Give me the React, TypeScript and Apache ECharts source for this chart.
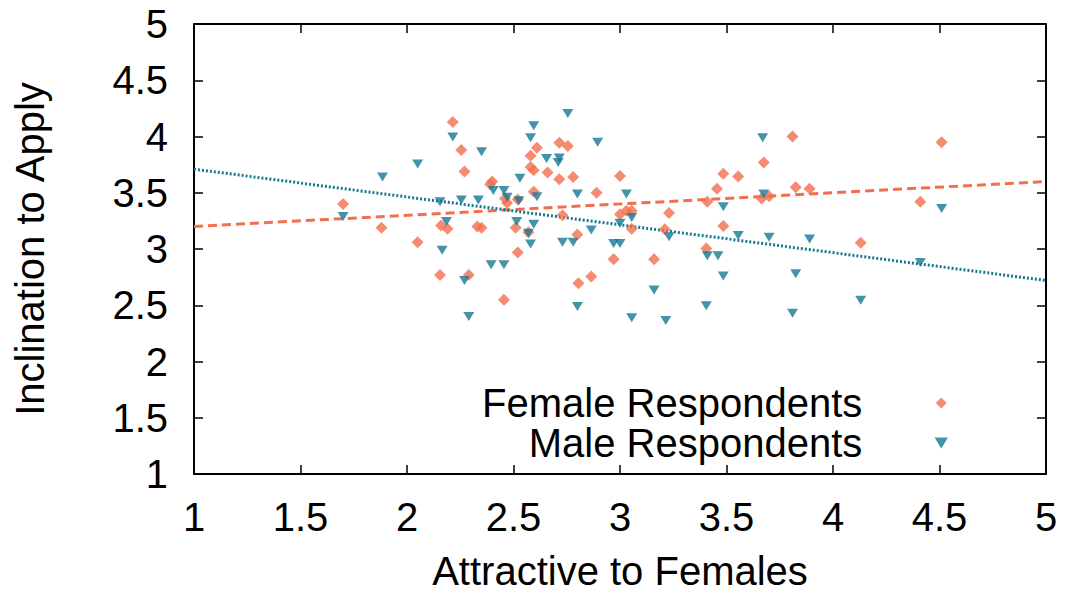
import React, { useEffect, useRef } from "react";
import * as echarts from "echarts";

// Respondent ratings: attractiveness to females (x) vs. inclination to apply (y)
const femaleX = [
  1.7, 1.88, 2.05, 2.155, 2.16, 2.19, 2.215, 2.255, 2.27, 2.29, 2.33, 2.35,
  2.4, 2.39, 2.455, 2.46, 2.47, 2.52, 2.51, 2.52, 2.57, 2.58, 2.58, 2.595,
  2.595, 2.61, 2.66, 2.715, 2.715, 2.73, 2.755, 2.78, 2.8, 2.805, 2.865, 2.89,
  2.97, 3.0, 3.0, 3.03, 3.055, 3.055, 3.16, 3.21, 3.23, 3.405, 3.41, 3.455,
  3.485, 3.485, 3.555, 3.665, 3.675, 3.7, 3.81, 3.825, 3.89, 4.13, 4.41, 4.51,
];
const femaleY = [
  3.4, 3.19, 3.06, 2.77, 3.21, 3.18, 4.13, 3.88, 3.69, 2.77, 3.2, 3.19,
  3.6, 3.575, 2.55, 3.45, 3.41, 3.44, 3.19, 2.97, 3.15, 3.83, 3.73, 3.7,
  3.51, 3.9, 3.68, 3.945, 3.62, 3.3, 3.915, 3.64, 3.13, 2.695, 2.755, 3.5,
  2.91, 3.65, 3.31, 3.34, 3.34, 3.18, 2.91, 3.175, 3.32, 3.005, 3.42, 3.535,
  3.67, 3.205, 3.645, 3.45, 3.77, 3.47, 4.0, 3.55, 3.535, 3.055, 3.42, 3.95,
];
const maleX = [
  1.7, 1.885, 2.05, 2.155, 2.165, 2.185, 2.215, 2.255, 2.27, 2.29, 2.335, 2.35,
  2.395, 2.405, 2.455, 2.455, 2.47, 2.515, 2.525, 2.53, 2.57, 2.58, 2.58, 2.595,
  2.595, 2.61, 2.655, 2.715, 2.71, 2.73, 2.755, 2.78, 2.8, 2.8, 2.865, 2.895,
  2.97, 3.0, 3.0, 3.03, 3.055, 3.055, 3.16, 3.215, 3.23, 3.405, 3.41, 3.46,
  3.485, 3.485, 3.555, 3.67, 3.675, 3.7, 3.81, 3.825, 3.89, 4.13, 4.41, 4.51,
];
const maleY = [
  3.29, 3.64, 3.755, 3.42, 2.99, 3.245, 3.995, 3.435, 2.72, 2.4, 3.435, 3.865,
  2.86, 3.52, 3.52, 2.86, 3.46, 3.245, 3.43, 3.63, 3.14, 3.99, 3.045, 4.095,
  3.22, 3.465, 3.805, 3.81, 3.77, 3.06, 4.205, 3.06, 3.49, 2.49, 3.17, 3.95,
  3.05, 3.05, 3.23, 3.49, 3.28, 2.39, 2.635, 2.365, 3.11, 2.495, 2.94, 2.94,
  3.375, 2.76, 3.12, 3.99, 3.49, 3.105, 2.43, 2.78, 3.09, 2.545, 2.88, 3.36,
];

// Fitted trend lines, evaluated at the ends of the x range
const trendX = [1, 5];
const femaleTrendY = [3.2, 3.6];
const maleTrendY = [3.71, 2.72];

const seriesNames = ["Female Respondents", "Male Respondents"];
const xTitle = "Attractive to Females";
const yTitle = "Inclination to Apply";

const ORANGE = "#F26F4E";
const BLUE = "#147893";
const FONT = "'Liberation Sans', Arial, Helvetica, sans-serif";
const FONT_SIZE = 40;
const DIAMOND = "path://M5,0L10,5L5,10L0,5Z";
const TRI_DOWN = "path://M0,0L11,0L5.5,9Z";

const pairs = (xs: number[], ys: number[]) => xs.map((x, i) => [x, ys[i]]);

const frameLine = { show: true, onZero: false, lineStyle: { color: "#000", width: 2 } };
const innerTick = { show: true, inside: true, length: 9, lineStyle: { color: "#000", width: 1.5 } };
const textBase = { fontSize: FONT_SIZE, color: "#000", fontFamily: FONT };

export default function App() {
  const ref = useRef<HTMLDivElement>(null);

  useEffect(() => {
    if (!ref.current) return;
    const chart = echarts.init(ref.current, null, { renderer: "svg" });
    chart.setOption({
      animation: false,
      backgroundColor: "#fff",
      textStyle: { fontFamily: FONT },
      grid: {
        left: 194,
        top: 24,
        right: 19,
        bottom: 122,
        containLabel: false,
        outerBoundsMode: "none",
      },
      legend: {
        orient: "vertical",
        align: "right",
        right: 117,
        top: 383,
        padding: 0,
        itemGap: 0,
        itemWidth: 148,
        itemHeight: 11,
        selectedMode: false,
        textStyle: { ...textBase, lineHeight: 40 },
        data: [
          { name: seriesNames[0], icon: DIAMOND },
          { name: seriesNames[1], icon: TRI_DOWN },
        ],
      },
      xAxis: [
        {
          type: "value",
          min: 1,
          max: 5,
          interval: 0.5,
          position: "bottom",
          axisLine: frameLine,
          axisTick: innerTick,
          splitLine: { show: false },
          axisLabel: { ...textBase, margin: 23 },
          name: xTitle,
          nameLocation: "middle",
          nameGap: 81,
          nameTextStyle: { ...textBase, lineHeight: 32 },
        },
        {
          type: "value",
          min: 1,
          max: 5,
          interval: 0.5,
          position: "top",
          axisLine: frameLine,
          axisTick: innerTick,
          splitLine: { show: false },
          axisLabel: { show: false },
        },
      ],
      yAxis: [
        {
          type: "value",
          min: 1,
          max: 5,
          interval: 0.5,
          position: "left",
          axisLine: frameLine,
          axisTick: innerTick,
          splitLine: { show: false },
          axisLabel: { ...textBase, margin: 26 },
          name: yTitle,
          nameLocation: "middle",
          nameGap: 144,
          nameRotate: 90,
          nameTextStyle: textBase,
        },
        {
          type: "value",
          min: 1,
          max: 5,
          interval: 0.5,
          position: "right",
          axisLine: frameLine,
          axisTick: innerTick,
          splitLine: { show: false },
          axisLabel: { show: false },
        },
      ],
      series: [
        {
          name: "Female trend",
          type: "line",
          data: pairs(trendX, femaleTrendY),
          symbol: "none",
          silent: true,
          lineStyle: { color: ORANGE, width: 3, type: [9, 5] },
          z: 2,
        },
        {
          name: "Male trend",
          type: "line",
          data: pairs(trendX, maleTrendY),
          symbol: "none",
          silent: true,
          lineStyle: { color: BLUE, width: 3, type: [2, 2] },
          z: 2,
        },
        {
          name: seriesNames[0],
          type: "scatter",
          data: pairs(femaleX, femaleY),
          symbol: DIAMOND,
          symbolSize: [12, 12],
          itemStyle: { color: ORANGE },
          z: 3,
        },
        {
          name: seriesNames[1],
          type: "scatter",
          data: pairs(maleX, maleY),
          symbol: TRI_DOWN,
          symbolSize: [11, 9],
          itemStyle: { color: BLUE },
          z: 3,
        },
      ],
    });
    return () => chart.dispose();
  }, []);

  return (
    <div
      ref={ref}
      style={{ position: "absolute", left: 0, top: 0, width: 1065, height: 596 }}
    />
  );
}
